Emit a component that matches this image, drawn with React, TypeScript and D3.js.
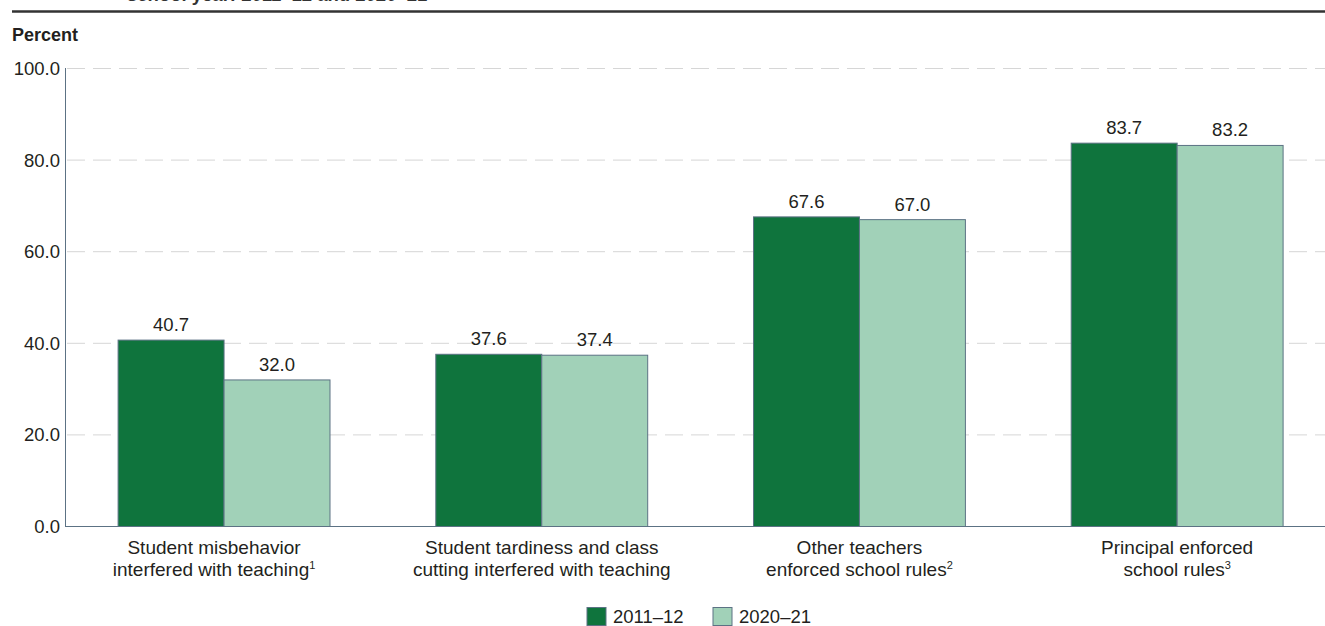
import React from "react";
import * as d3 from "d3";

const categories: string[][] = [
  ["Student misbehavior", "interfered with teaching|1"],
  ["Student tardiness and class", "cutting interfered with teaching"],
  ["Other teachers", "enforced school rules|2"],
  ["Principal enforced", "school rules|3"],
];
const series = ["2011–12", "2020–21"];
const values2011 = [40.7, 37.6, 67.6, 83.7];
const values2020 = [32.0, 37.4, 67.0, 83.2];
const yTicks = [0, 20, 40, 60, 80, 100];

const W = 1325;
const H = 626;
const FONT = "'Liberation Sans', Arial, Helvetica, sans-serif";
const colors = ["#0f743d", "#a1d1b8"];
const strokeC = "#5c7284";
const textC = "#231f20";
const FS = 18.5;
const labelShift = [-10, 0, 0, 0];

export default function App() {
  const x = d3
    .scaleBand<number>()
    .domain(d3.range(categories.length))
    .range([65.2, 1336])
    .paddingInner(0.333)
    .paddingOuter(0.1665);
  const inner = d3
    .scaleBand<number>()
    .domain([0, 1])
    .range([0, x.bandwidth()]);
  const y = d3.scaleLinear().domain([0, 100]).range([526.5, 68.5]);
  const data = [values2011, values2020];

  return (
    <svg
      width={W}
      height={H}
      style={{ position: "absolute", left: 0, top: 0, background: "#fff" }}
      fontFamily={FONT}
    >
      {/* cut-off title */}
      <text x={127} y={1} fontSize={18.5} fontWeight="bold" fill="#333">
        school year: 2011–12 and 2020–21
      </text>
      <line x1={12} x2={W} y1={11.5} y2={11.5} stroke="#333" strokeWidth={2.5} />
      <text x={12} y={41} fontSize={18} fontWeight="bold" fill={textC}>
        Percent
      </text>

      {/* grid */}
      {yTicks.map((t) => (
        <g key={t}>
          {t > 0 && (
            <line
              x1={67}
              x2={W}
              y1={y(t)}
              y2={y(t)}
              stroke="#d6d6d6"
              strokeWidth={1}
              strokeDasharray="18,8"
            />
          )}
          <text
            x={60}
            y={y(t)}
            dy="0.35em"
            textAnchor="end"
            fontSize={FS}
            fill={textC}
          >
            {t.toFixed(1)}
          </text>
        </g>
      ))}

      {/* bars */}
      {categories.map((c, i) => (
        <g key={i} transform={`translate(${x(i)},0)`}>
          {data.map((vals, s) => (
            <g key={s}>
              <rect
                x={inner(s)}
                y={y(vals[i])}
                width={inner.bandwidth()}
                height={y(0) - y(vals[i])}
                fill={colors[s]}
                stroke={strokeC}
                strokeWidth={1}
              />
              <text
                x={(inner(s) as number) + inner.bandwidth() / 2}
                y={y(vals[i]) - 9}
                textAnchor="middle"
                fontSize={FS}
                fill={textC}
              >
                {vals[i].toFixed(1)}
              </text>
            </g>
          ))}
          {c.map((line, li) => {
            const [txt, sup] = line.split("|");
            return (
              <text
                key={li}
                x={x.bandwidth() / 2 + labelShift[i]}
                y={554 + li * 22}
                textAnchor="middle"
                fontSize={19}
                fill={textC}
              >
                {txt}
                {sup && (
                  <tspan fontSize={11} dy={-7}>
                    {sup}
                  </tspan>
                )}
              </text>
            );
          })}
        </g>
      ))}

      {/* axes */}
      <line x1={65.5} x2={65.5} y1={68} y2={y(0)} stroke={strokeC} strokeWidth={1} />
      <line x1={65} x2={W} y1={y(0)} y2={y(0)} stroke={strokeC} strokeWidth={1} />

      {/* legend */}
      {series.map((s, i) => {
        const lx = i === 0 ? 587 : 713;
        return (
          <g key={s}>
            <rect
              x={lx}
              y={607.5}
              width={19}
              height={18}
              fill={colors[i]}
              stroke={strokeC}
              strokeWidth={1}
            />
            <text x={lx + 26} y={623} fontSize={FS} fill={textC}>
              {s}
            </text>
          </g>
        );
      })}
    </svg>
  );
}
